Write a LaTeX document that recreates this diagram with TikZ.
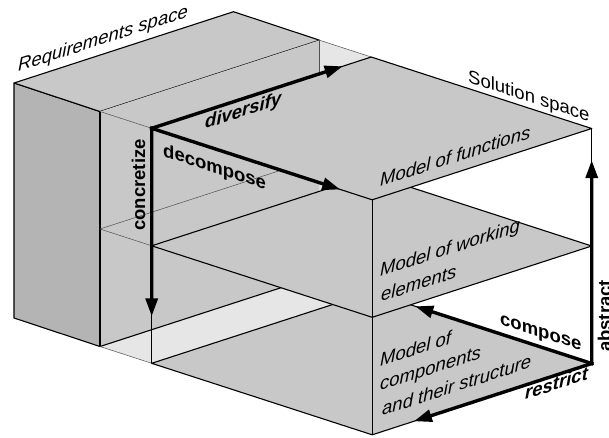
\documentclass[tikz,border=0pt]{standalone}
\usepackage{fontspec}
\setmainfont{Liberation Sans}
\usetikzlibrary{arrows.meta,calc}

\definecolor{facegray}{RGB}{200,200,200}
\definecolor{sidegray}{RGB}{180,180,180}
\definecolor{gapgray}{RGB}{230,230,230}
\definecolor{hiddenline}{RGB}{80,80,80}

\begin{document}
\begin{tikzpicture}[x=1pt,y=-1pt,
  edge/.style={line width=1.1pt, line join=round},
  thinedge/.style={line width=0.5pt, draw=hiddenline},
  plane/.style={edge, fill=facegray},
  flow/.style={line width=3.4pt, line cap=rect, -{Triangle[length=18pt,width=12pt]}},
  lbl/.style={font=\fontsize{18.5}{22}\selectfont, inner sep=0pt, anchor=base west},
  ilbl/.style={lbl, font=\fontsize{18.5}{22}\selectfont\itshape},
  act/.style={lbl, font=\fontsize{18.5}{22}\selectfont\bfseries},
  iact/.style={lbl, font=\fontsize{18.5}{22}\selectfont\bfseries\itshape},
  riseslant/.style={yslant=0.3249},
  fallslant/.style={yslant=-0.3249},
]
\useasboundingbox (0,0) rectangle (609,437);

% requirements block
\coordinate (RA)  at (14,83);
\coordinate (RB)  at (233.5,11.7);
\coordinate (RC)  at (319.5,40.2);
\coordinate (RD)  at (100,111.5);
\coordinate (RAb) at (14,318);
\coordinate (RCb) at (319.5,275.2);
\coordinate (RDb) at (100,346.5);
\coordinate (RDm) at (100,229);
\coordinate (RCm) at (319.5,157.7);
\coordinate (RCv) at (319.5,80);

% solution levels: top, middle, bottom
\coordinate (S1) at (151.7,128.3);
\coordinate (B1) at (371.2,57);
\coordinate (R1) at (591.7,128.5);
\coordinate (F1) at (372.2,199.8);
\coordinate (S2) at (151.7,245.8);
\coordinate (B2) at (371.2,174.5);
\coordinate (R2) at (591.7,246);
\coordinate (F2) at (372.2,317.3);
\coordinate (S3) at (151.7,363.3);
\coordinate (B3) at (371.2,292);
\coordinate (R3) at (591.7,363.5);
\coordinate (F3) at (372.2,434.8);

% requirements block faces
\filldraw[edge, fill=sidegray] (RA) -- (RD) -- (RDb) -- (RAb) -- cycle;
\filldraw[edge, fill=facegray] (RA) -- (RB) -- (RC) -- (RD) -- cycle;
\fill[facegray] (RD) -- (RC) -- (RCb) -- (RDb) -- cycle;
\draw[edge] (RD) -- (RDb);

% gap between the two spaces
\fill[gapgray] (RDb) -- (RCb) -- (B3) -- (S3) -- cycle;
\fill[gapgray] (RC) -- (B1) -- (B3) -- (RCb) -- cycle;
\draw[edge] (RDb) -- (RCb);
\draw[thinedge] (RD) -- (S1);
\draw[thinedge] (RDm) -- (S2);
\draw[thinedge] (RDb) -- (S3);
\draw[thinedge] (RDm) -- (RCm);
\draw[thinedge] (RC) -- (B1);
\draw[thinedge] (RC) -- (RCv);

% solution levels, bottom first
\filldraw[plane] (S3) -- (B3) -- (R3) -- (F3) -- cycle;
\filldraw[plane] (S2) -- (B2) -- (R2) -- (F2) -- cycle;
\filldraw[plane] (S1) -- (B1) -- (R1) -- (F1) -- cycle;

% vertical edges
\draw[edge] (S1) -- (S3);
\draw[edge] (F1) -- (F3);
\draw[edge] (R1) -- (R3);

% design operations
\draw[flow] (S1) -- ($(S1)!0.80!(S3)$);
\draw[flow] (S1) -- ($(S1)!0.87!(B1)$);
\draw[flow] (S1) -- ($(S1)!0.855!(F1)$);
\draw[flow] (R3) -- ($(R3)!0.865!(R1)$);
\draw[flow] (R3) -- ($(R3)!0.80!(B3)$);
\draw[flow] (R3) -- ($(R3)!0.81!(F3)$);

% labels
\node[ilbl, riseslant] (reqlabel) at (18,72) {Requirements space};
\node[lbl, fallslant] (sollabel) at (468,82) {Solution space};
\node[ilbl, riseslant] (funlabel) at (380,187) {Model of functions};
\node[ilbl, riseslant] (worklabela) at (380,277) {Model of working};
\node[ilbl, riseslant] (worklabelb) at (381,302) {elements};
\node[ilbl, riseslant] (complabela) at (380,366.7) {Model of};
\node[ilbl, riseslant] (complabelb) at (380,391) {components};
\node[ilbl, riseslant] (complabelc) at (382,416) {and their structure};

\node[iact, riseslant] (divlabel) at (205,129) {diversify};
\node[act, fallslant] (declabel) at (163,156) {decompose};
\node[act, rotate=90, anchor=base] (conlabel) at (145,185) {concretize};
\node[act, fallslant] (cmplabel) at (500,324) {compose};
\node[iact, riseslant] (reslabel) at (525,400) {restrict};
\node[act, rotate=90, anchor=base] (abslabel) at (611,316) {abstract};
\end{tikzpicture}
\end{document}
